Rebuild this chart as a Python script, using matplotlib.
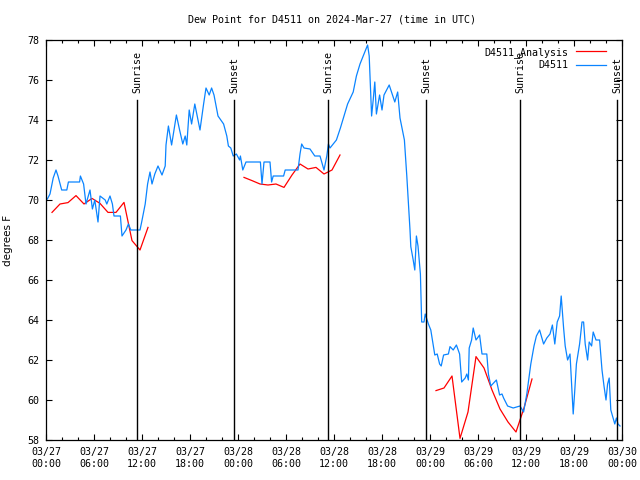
import matplotlib
matplotlib.use('Agg')
import matplotlib.pyplot as plt
import matplotlib.dates as mdates
import numpy as np
from datetime import datetime, timedelta

plt.rcParams['font.family'] = ['DejaVu Sans Mono']
plt.rcParams['font.size'] = 7.2

# observed dew point, hours since 2024-03-27 00:00 UTC
obs_hours = [0.0, 0.17, 0.5, 0.9, 1.25, 1.5, 1.96, 2.6, 2.8, 4.2, 4.3, 4.7, 5.0, 5.5, 5.8, 6.1,
             6.5, 6.75, 7.4, 7.6, 8.0, 8.3, 8.5, 9.3, 9.5, 10.0, 10.3, 10.6, 11.75, 11.96,
             12.4, 12.7, 13.0, 13.25, 13.6, 14.0, 14.5, 14.9, 15.0, 15.3, 15.7, 16.0, 16.3,
             16.7, 17.1, 17.4, 17.6, 17.9, 18.2, 18.6, 19.25, 19.7, 20.0, 20.4, 20.7, 21.0,
             21.5, 22.2, 22.6, 22.8, 23.1, 23.4, 23.8, 24.2, 24.3, 24.6, 25.0, 26.8, 27.0,
             27.25, 28.0, 28.2, 28.4, 29.7, 29.9, 31.5, 31.75, 31.96, 32.25, 33.0, 33.6,
             34.25, 34.75, 35.1, 35.3, 35.5, 36.3, 36.8, 37.4, 37.7, 38.4, 38.8, 39.25, 39.7,
             40.2, 40.4, 40.7, 40.9, 41.1, 41.3, 41.7, 42.0, 42.25, 42.9, 43.6, 43.96, 44.25,
             44.8, 45.1, 45.5, 45.6, 45.9, 46.1, 46.3, 46.5, 46.8, 46.9, 46.96, 47.25, 47.4,
             47.8, 48.1, 48.3, 48.6, 48.9, 49.2, 49.4, 49.7, 50.3, 50.5, 50.9, 51.3, 51.7,
             51.96, 52.4, 52.6, 52.8, 52.9, 53.2, 53.4, 53.75, 54.2, 54.5, 55.1, 55.3, 55.6,
             56.3, 56.7, 57.0, 57.2, 57.7, 58.4, 59.25, 59.7, 60.1, 60.4, 60.6, 61.0, 61.3,
             61.7, 62.2, 62.6, 63.0, 63.3, 63.6, 63.9, 64.2, 64.4, 64.7, 64.9, 65.2, 65.5,
             65.9, 66.1, 66.3, 66.7, 67.0, 67.2, 67.4, 67.7, 67.9, 68.2, 68.4, 68.75, 69.2,
             69.5, 69.75, 70.0, 70.2, 70.4, 70.6, 71.1, 71.3, 71.5, 71.75]
obs_vals = [70.0, 70.05, 70.3, 71.1, 71.5, 71.2, 70.5, 70.5, 70.9, 70.9, 71.2, 70.8, 69.8, 70.5,
            69.55, 70.0, 68.9, 70.2, 70.0, 69.8, 70.2, 69.8, 69.2, 69.2, 68.2, 68.5, 68.8,
            68.5, 68.5, 68.9, 69.8, 70.8, 71.4, 70.8, 71.3, 71.7, 71.25, 71.7, 72.75, 73.7,
            72.75, 73.5, 74.25, 73.5, 72.8, 73.2, 72.75, 74.5, 73.8, 74.8, 73.5, 74.8, 75.6,
            75.25, 75.6, 75.25, 74.2, 73.8, 73.2, 72.7, 72.6, 72.2, 72.3, 72.0, 72.2, 71.5,
            71.9, 71.9, 70.8, 71.9, 71.9, 70.9, 71.2, 71.2, 71.5, 71.5, 72.3, 72.8, 72.6,
            72.55, 72.2, 72.2, 71.5, 72.2, 72.8, 72.6, 73.0, 73.6, 74.4, 74.8, 75.4, 76.2,
            76.8, 77.25, 77.75, 77.2, 74.2, 75.0, 75.9, 74.3, 75.25, 74.5, 75.25, 75.75, 74.9,
            75.4, 74.1, 73.0, 71.2, 68.5, 67.67, 67.0, 66.5, 68.2, 67.7, 66.3, 64.7, 63.9,
            63.9, 64.3, 63.8, 63.5, 63.0, 62.25, 62.3, 61.8, 61.7, 62.25, 62.3, 62.67, 62.5,
            62.75, 62.3, 60.9, 61.1, 61.3, 61.0, 62.6, 63.0, 63.6, 63.0, 63.25, 62.3, 62.3,
            61.3, 60.7, 61.0, 60.25, 60.3, 60.1, 59.7, 59.6, 59.7, 59.4, 60.3, 61.2, 61.8,
            62.7, 63.2, 63.5, 62.8, 63.1, 63.3, 63.75, 62.8, 63.9, 64.2, 65.2, 63.6, 62.7,
            62.0, 62.3, 59.3, 60.5, 61.8, 62.8, 63.9, 63.9, 62.8, 62.0, 62.9, 62.7, 63.4,
            63.0, 63.0, 61.5, 60.7, 60.0, 60.8, 61.1, 59.5, 58.8, 59.1, 58.8, 58.7]

# hourly analysis, three runs
ana_hours_1 = [0.75 + k for k in range(13)]
ana_vals_1 = [69.38, 69.8, 69.87, 70.22, 69.8, 70.08, 69.83, 69.38, 69.38, 69.88, 67.97, 67.5, 68.63]
ana_hours_2 = [24.75 + k for k in range(13)]
ana_vals_2 = [71.13, 70.97, 70.8, 70.75, 70.8, 70.63, 71.25, 71.8, 71.55, 71.63, 71.3, 71.5, 72.25]
ana_hours_3 = [48.75 + k for k in range(13)]
ana_vals_3 = [60.47, 60.6, 61.2, 58.08, 59.4, 62.17, 61.6, 60.5, 59.55, 58.9, 58.4, 59.6, 61.05]

sun_hours = [11.42, 23.54, 35.3, 47.54, 59.3, 71.42]
sun_labels = ['Sunrise', 'Sunset', 'Sunrise', 'Sunset', 'Sunrise', 'Sunset']

t0 = datetime(2024, 3, 27)
def to_t(hours):
    return [t0 + timedelta(hours=h) for h in hours]

fig = plt.figure(figsize=(6.4, 4.8), dpi=100)
ax = fig.add_axes([46/640, 40/480, 576/640, 400/480])

red = '#ff0000'
blue = '#0a84ff'
ax.plot(to_t(ana_hours_1), ana_vals_1, color=red, lw=0.9, label='D4511_Analysis')
ax.plot(to_t(ana_hours_2), ana_vals_2, color=red, lw=0.9)
ax.plot(to_t(ana_hours_3), ana_vals_3, color=red, lw=0.9)
ax.plot(to_t(obs_hours), obs_vals, color=blue, lw=0.9, label='D4511')

for h, lab in zip(sun_hours, sun_labels):
    t = t0 + timedelta(hours=h)
    ax.plot([t, t], [58, 75.0], color='black', lw=1.0)
    ax.text(t, 75.35, lab, rotation=90, ha='center', va='bottom')

ax.set_xlim(t0, t0 + timedelta(hours=72))
ax.set_ylim(58, 78)
ax.set_yticks(np.arange(58, 79, 2))
ax.xaxis.set_major_locator(mdates.HourLocator(byhour=[0, 6, 12, 18]))
ax.xaxis.set_minor_locator(mdates.HourLocator(interval=2))
ax.xaxis.set_major_formatter(mdates.DateFormatter('%m/%d\n%H:%M'))
ax.tick_params(which='both', direction='in', top=True, right=True, labelsize=7.2)
ax.tick_params(which='major', length=4, width=0.8, pad=5)
ax.tick_params(which='minor', length=2.5, width=0.8)
for s in ax.spines.values():
    s.set_linewidth(0.9)

ax.set_ylabel('degrees F', fontsize=7.5, family='DejaVu Sans', labelpad=10)
fig.text(0.519, 1 - 19/480, 'Dew Point for D4511 on 2024-Mar-27 (time in UTC)',
         ha='center', va='center')

leg = ax.legend(loc='upper right', bbox_to_anchor=(0.985, 1.0), frameon=False,
                markerfirst=False, handlelength=3.0,
                labelspacing=0.25, borderaxespad=0.3)

fig.savefig('out.png', dpi=100)
